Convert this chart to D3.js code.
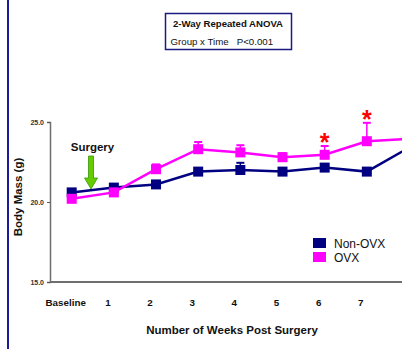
<!DOCTYPE html>
<html>
<head>
<meta charset="utf-8">
<script src="https://cdn.jsdelivr.net/npm/d3@7"></script>
<style>
  body { margin: 0; background: #fff; }
  svg { display: block; font-family: Arial, "Liberation Sans", sans-serif; }
</style>
</head>
<body>
<svg id="chart" width="402" height="349"></svg>
<script>
// data (week 8 runs off the right edge)
var weeks = ["Baseline", "1", "2", "3", "4", "5", "6", "7", "8"];
var tickLabels = ["Baseline", "1", "2", "3", "4", "5", "6", "7"];
var nonOvx = [20.6, 20.9, 21.1, 21.9, 22.0, 21.9, 22.15, 21.9, 23.4];
var nonOvxErr = [0.15, 0.15, 0.2, 0.2, 0.45, 0.2, 0.2, 0.2, 0.2];
var ovx = [20.2, 20.6, 22.05, 23.3, 23.1, 22.8, 22.95, 23.8, 23.95];
var ovxErr = [0.15, 0.15, 0.3, 0.45, 0.45, 0.25, 0.55, 1.15, 0.3];
var starWeeks = ["6", "7"];
var yTicks = [15, 20, 25];

var svg = d3.select("#chart");

var x = d3.scalePoint()
    .domain(weeks)
    .range([71.7, 409]);

var y = d3.scaleLinear()
    .domain([15, 25])
    .range([282, 122]);

// left border line
svg.append("line")
    .attr("x1", 8).attr("x2", 8)
    .attr("y1", 0).attr("y2", 349)
    .attr("stroke", "#1a1a9a")
    .attr("stroke-width", 2);

// y axis
var yAxis = d3.axisLeft(y)
    .tickValues(yTicks)
    .tickSize(3)
    .tickFormat(d3.format(".1f"));

var gy = svg.append("g")
    .attr("transform", "translate(50,0)")
    .call(yAxis);
gy.select(".domain").attr("stroke", "#6e6e6e").attr("stroke-width", 1.5);
gy.selectAll(".tick line").attr("stroke", "#555");
gy.selectAll(".tick text")
    .attr("font-size", 7)
    .attr("font-weight", "bold")
    .attr("fill", "#333")
    .attr("x", -6);

// x axis baseline
svg.append("line")
    .attr("x1", 50).attr("x2", 402)
    .attr("y1", y(15)).attr("y2", y(15))
    .attr("stroke", "#6e6e6e")
    .attr("stroke-width", 2);

// x tick labels
svg.append("g")
    .selectAll("text")
    .data(tickLabels)
    .enter().append("text")
    .attr("x", function (d) { return x(d) - 6; })
    .attr("y", 306)
    .attr("text-anchor", "middle")
    .attr("font-size", 9.8)
    .attr("font-weight", "bold")
    .attr("fill", "#111")
    .text(function (d) { return d; });

// axis titles
svg.append("text")
    .attr("x", 232)
    .attr("y", 334)
    .attr("text-anchor", "middle")
    .attr("font-size", 11.5)
    .attr("font-weight", "bold")
    .attr("fill", "#111")
    .text("Number of Weeks Post Surgery");

svg.append("text")
    .attr("transform", "translate(22,197) rotate(-90)")
    .attr("text-anchor", "middle")
    .attr("font-size", 11.5)
    .attr("font-weight", "bold")
    .attr("fill", "#111")
    .text("Body Mass (g)");

var series = [
  { name: "Non-OVX", values: nonOvx, err: nonOvxErr, color: "#000080" },
  { name: "OVX", values: ovx, err: ovxErr, color: "#ff00ff" }
];

var line = d3.line()
    .x(function (d) { return x(d.week); })
    .y(function (d) { return y(d.value); });

series.forEach(function (s) {
  var pts = weeks.map(function (w, i) {
    return { week: w, value: s.values[i], err: s.err[i] };
  });
  var g = svg.append("g");

  // error bars (upper only)
  g.selectAll("line.err")
      .data(pts)
      .enter().append("line")
      .attr("x1", function (d) { return x(d.week); })
      .attr("x2", function (d) { return x(d.week); })
      .attr("y1", function (d) { return y(d.value); })
      .attr("y2", function (d) { return y(d.value + d.err); })
      .attr("stroke", s.color)
      .attr("stroke-width", 1.5);
  g.selectAll("line.cap")
      .data(pts)
      .enter().append("line")
      .attr("x1", function (d) { return x(d.week) - 4; })
      .attr("x2", function (d) { return x(d.week) + 4; })
      .attr("y1", function (d) { return y(d.value + d.err); })
      .attr("y2", function (d) { return y(d.value + d.err); })
      .attr("stroke", s.color)
      .attr("stroke-width", 2);

  g.append("path")
      .datum(pts)
      .attr("d", line)
      .attr("fill", "none")
      .attr("stroke", s.color)
      .attr("stroke-width", 2.5);

  g.selectAll("rect")
      .data(pts)
      .enter().append("rect")
      .attr("x", function (d) { return x(d.week) - 5; })
      .attr("y", function (d) { return y(d.value) - 5; })
      .attr("width", 10)
      .attr("height", 10)
      .attr("fill", s.color);
});

// significance stars
svg.append("g")
    .selectAll("text")
    .data(starWeeks)
    .enter().append("text")
    .attr("x", function (d) { return x(d); })
    .attr("y", function (d) {
      var i = weeks.indexOf(d);
      return y(ovx[i] + ovxErr[i]) + 5;
    })
    .attr("text-anchor", "middle")
    .attr("font-size", 25)
    .attr("font-weight", "bold")
    .attr("fill", "#ff0000")
    .text("*");

// surgery label + green arrow
svg.append("text")
    .attr("x", 92.5)
    .attr("y", 151)
    .attr("text-anchor", "middle")
    .attr("font-size", 11.5)
    .attr("font-weight", "bold")
    .attr("fill", "#111")
    .text("Surgery");

svg.append("path")
    .attr("d", "M88.5,156 L93.5,156 L93.5,178 L97.5,178 L91,189 L84.5,178 L88.5,178 Z")
    .attr("fill", "#66cc00")
    .attr("stroke", "#339900")
    .attr("stroke-width", 0.8);

// stats box
svg.append("rect")
    .attr("x", 165.5).attr("y", 13.5)
    .attr("width", 126).attr("height", 36)
    .attr("fill", "#fff")
    .attr("stroke", "#1a1a80")
    .attr("stroke-width", 1.5);
svg.append("text")
    .attr("x", 228).attr("y", 27)
    .attr("text-anchor", "middle")
    .attr("font-size", 9.6)
    .attr("font-weight", "bold")
    .attr("fill", "#111")
    .text("2-Way Repeated ANOVA");
svg.append("text")
    .attr("x", 170.5).attr("y", 44.5)
    .attr("font-size", 9.7)
    .attr("fill", "#111")
    .attr("xml:space", "preserve")
    .style("white-space", "pre")
    .text("Group x Time   P<0.001");

// legend
var legend = svg.append("g")
    .selectAll("g")
    .data(series)
    .enter().append("g")
    .attr("transform", function (d, i) { return "translate(313," + (238 + i * 14) + ")"; });
legend.append("rect")
    .attr("width", 13).attr("height", 10)
    .attr("fill", function (d) { return d.color; });
legend.append("text")
    .attr("x", 21).attr("y", 9.5)
    .attr("font-size", 12)
    .attr("fill", "#111")
    .text(function (d) { return d.name; });
</script>
</body>
</html>
